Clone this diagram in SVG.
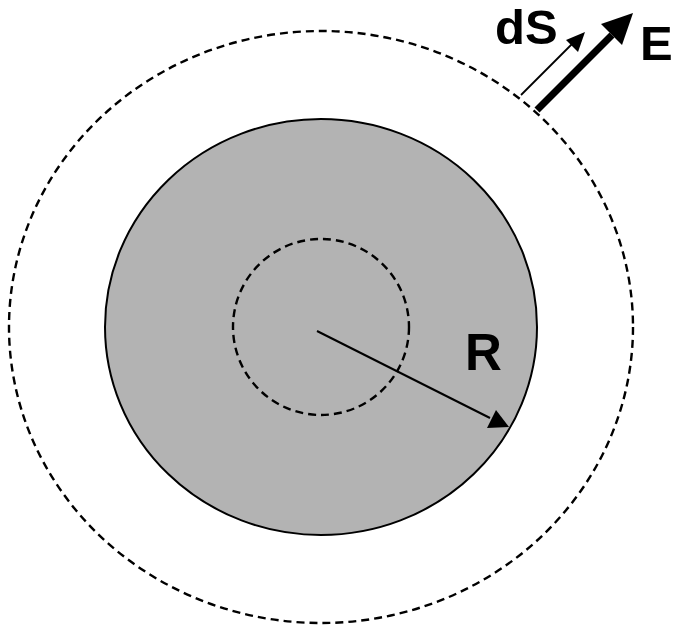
<svg xmlns="http://www.w3.org/2000/svg" width="676" height="628" viewBox="0 0 676 628">
<style>
.dash{fill:none;stroke:#000;stroke-width:2.4;stroke-dasharray:8 5}
.lbl{font-family:"Liberation Sans",Arial,sans-serif;font-weight:bold;fill:#000}
</style>
<rect width="676" height="628" fill="#fff"/>
<g id="outer-surface"><ellipse class="dash" cx="321" cy="327" rx="312" ry="296"/></g>
<g id="sphere"><ellipse cx="321" cy="327" rx="216" ry="208" fill="#b3b3b3" stroke="#000" stroke-width="2"/></g>
<g id="inner-surface"><circle class="dash" cx="321" cy="327" r="88"/></g>
<g id="connectors">
<line x1="317" y1="331" x2="490" y2="418" stroke="#000" stroke-width="2"/>
<path d="M509,427 L487,428 L496,410 Z" fill="#000"/>
<line x1="521" y1="95" x2="572" y2="44" stroke="#000" stroke-width="1.8"/>
<path d="M585,32 L578,52 L566,40 Z" fill="#000"/>
<line x1="537" y1="110" x2="612" y2="35" stroke="#000" stroke-width="7"/>
<path d="M633,13 L622,45 L601,24 Z" fill="#000"/>
</g>
<g id="labels">
<text class="lbl" x="465" y="370" font-size="51">R</text>
<text class="lbl" x="495" y="44" font-size="49">dS</text>
<text class="lbl" x="640" y="60" font-size="49">E</text>
</g>
</svg>
